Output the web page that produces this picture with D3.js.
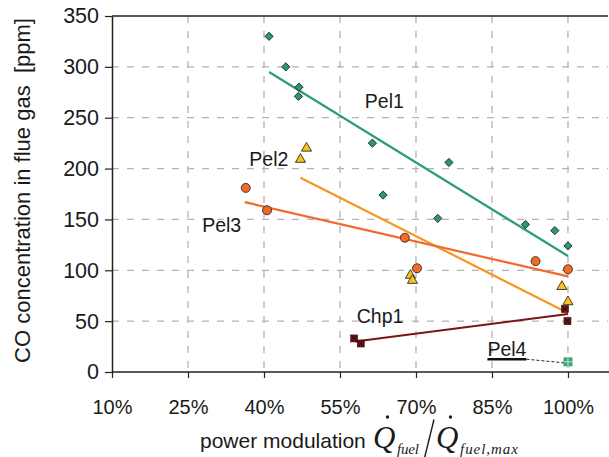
<!DOCTYPE html>
<html>
<head>
<meta charset="utf-8">
<script src="https://cdn.jsdelivr.net/npm/d3@7"></script>
<style>
  html, body { margin: 0; padding: 0; background: #fff; }
  svg { display: block; }
  text { font-family: "Liberation Sans", Arial, sans-serif; fill: #1a1a1a; }
  text.math { font-family: "Liberation Serif", "Times New Roman", serif; font-style: italic; }
</style>
</head>
<body>
<svg id="chart" width="609" height="457"></svg>
<script>
// Measured CO emissions vs. power modulation for several boilers
const pel1X = [41, 44.3, 46.9, 46.8, 61.4, 63.5, 74.3, 76.5, 91.6, 97.4, 100];
const pel1Y = [330, 300, 280, 271, 225, 174, 151, 206, 145, 139, 124];
const pel1FitX = [41, 100];
const pel1FitY = [295, 114];

const pel2X = [48.4, 47.2, 68.9, 69.3, 98.8, 100];
const pel2Y = [220, 209, 95, 90, 84, 69];
const pel2FitX = [47.2, 100];
const pel2FitY = [191, 58];

const pel3X = [36.4, 40.6, 67.8, 70.2, 93.6, 100];
const pel3Y = [181, 159, 132, 102, 109, 101];
const pel3FitX = [36.2, 100];
const pel3FitY = [167, 94];

const chp1X = [57.8, 59.1, 99.4, 99.9];
const chp1Y = [33, 28, 62, 50];
const chp1FitX = [58, 100];
const chp1FitY = [30, 57];

const pel4X = [100];
const pel4Y = [10];

const xTicks = [10, 25, 40, 55, 70, 85, 100];
const yTicks = [0, 50, 100, 150, 200, 250, 300, 350];

const svg = d3.select("#chart");
const plotL = 112, plotR = 608, plotT = 16, plotB = 372;

const x = d3.scaleLinear().domain([10, 107.9]).range([plotL, plotR]);
const y = d3.scaleLinear().domain([0, 350]).range([plotB, plotT]);

const zip = (a, b) => a.map((v, i) => [v, b[i]]);

// grid
const grid = svg.append("g").attr("stroke", "#b3b3b3").attr("stroke-width", 1.3)
  .attr("stroke-dasharray", "7,8");
grid.selectAll("line.h").data(yTicks.filter(t => t > 0 && t < 350)).join("line")
  .attr("x1", plotL).attr("x2", plotR).attr("y1", d => y(d)).attr("y2", d => y(d));
grid.selectAll("line.v").data(xTicks.filter(t => t > 10)).join("line")
  .attr("y1", plotT).attr("y2", plotB).attr("x1", d => x(d)).attr("x2", d => x(d));

// top border
svg.append("line").attr("x1", plotL).attr("x2", plotR).attr("y1", y(350)).attr("y2", y(350))
  .attr("stroke", "#222").attr("stroke-width", 1.5);

// trend lines
const line = d3.line().x(d => x(d[0])).y(d => y(d[1]));
const fits = [
  [zip(pel1FitX, pel1FitY), "#2f9e74"],
  [zip(pel2FitX, pel2FitY), "#f7961f"],
  [zip(pel3FitX, pel3FitY), "#f2692a"],
  [zip(chp1FitX, chp1FitY), "#7a1518"]
];
fits.forEach(([pts, c]) => {
  svg.append("path").attr("d", line(pts)).attr("fill", "none")
    .attr("stroke", c).attr("stroke-width", 2.2);
});

// markers
const outline = "#2b2b2b";
svg.append("g").selectAll("path").data(zip(pel1X, pel1Y)).join("path")
  .attr("d", d3.symbol(d3.symbolSquare, 34)())
  .attr("transform", d => `translate(${x(d[0])},${y(d[1])}) rotate(45)`)
  .attr("fill", "#2a9a6c").attr("stroke", outline).attr("stroke-width", 0.9);

svg.append("g").selectAll("path").data(zip(pel2X, pel2Y)).join("path")
  .attr("d", d3.symbol(d3.symbolTriangle, 44)())
  .attr("transform", d => `translate(${x(d[0])},${y(d[1])})`)
  .attr("fill", "#f9c31c").attr("stroke", outline).attr("stroke-width", 0.9);

svg.append("g").selectAll("circle").data(zip(pel3X, pel3Y)).join("circle")
  .attr("cx", d => x(d[0])).attr("cy", d => y(d[1])).attr("r", 4.5)
  .attr("fill", "#f26b24").attr("stroke", outline).attr("stroke-width", 0.9);

const chp = svg.append("g").selectAll("g").data(zip(chp1X, chp1Y)).join("g")
  .attr("transform", d => `translate(${x(d[0])},${y(d[1])})`);
chp.append("rect").attr("x", -3.5).attr("y", -3.5).attr("width", 7).attr("height", 7)
  .attr("fill", "#6e1216").attr("stroke", "#3a0a0a").attr("stroke-width", 0.6);
chp.append("path").attr("d", "M-2.5,-2.5L2.5,2.5M-2.5,2.5L2.5,-2.5")
  .attr("stroke", "#111").attr("stroke-width", 0.9);

const p4 = svg.append("g").selectAll("g").data(zip(pel4X, pel4Y)).join("g")
  .attr("transform", d => `translate(${x(d[0])},${y(d[1])})`);
p4.append("rect").attr("x", -4.5).attr("y", -4.5).attr("width", 9).attr("height", 9)
  .attr("fill", "#3aa878");
p4.append("path").attr("d", "M-4.5,0H4.5M0,-4.5V4.5")
  .attr("stroke", "#bfe6d2").attr("stroke-width", 1);

// series labels
const labels = [
  ["Pel1", 59.9, 259.5],
  ["Pel2", 37.1, 202.8],
  ["Pel3", 27.8, 137.3],
  ["Chp1", 58.3, 48.5]
];
svg.append("g").selectAll("text").data(labels).join("text")
  .attr("x", d => x(d[1])).attr("y", d => y(d[2]))
  .attr("font-size", 19.5).text(d => d[0]);

// Pel4 label with underline and dashed leader
const p4x = x(84.1), p4y = y(16);
const p4t = svg.append("text").attr("x", p4x).attr("y", p4y).attr("font-size", 19.5).text("Pel4");
const p4w = p4t.node().getComputedTextLength();
svg.append("line").attr("x1", p4x).attr("x2", p4x + p4w).attr("y1", p4y + 3.5).attr("y2", p4y + 3.5)
  .attr("stroke", "#111").attr("stroke-width", 2.4);
svg.append("line").attr("x1", p4x + p4w).attr("y1", p4y + 3.5)
  .attr("x2", x(pel4X[0]) - 4).attr("y2", y(pel4Y[0]) + 1)
  .attr("stroke", "#111").attr("stroke-width", 0.9).attr("stroke-dasharray", "3,2");

// axes
const xAxis = d3.axisBottom(x).tickValues(xTicks).tickFormat(d => d + "%")
  .tickSize(6).tickPadding(22).tickSizeOuter(0);
const gx = svg.append("g").attr("transform", `translate(0,${plotB})`).call(xAxis);
gx.select(".domain").attr("d", `M${plotL},0H609`).attr("stroke", "#222").attr("stroke-width", 1.5);
gx.selectAll(".tick line").attr("stroke", "#222").attr("stroke-width", 1.2);
gx.selectAll(".tick text").attr("font-size", 20);

const yAxis = d3.axisLeft(y).tickValues(yTicks).tickSize(7).tickPadding(6).tickSizeOuter(0);
const gy = svg.append("g").attr("transform", `translate(${plotL},0)`).call(yAxis);
gy.select(".domain").attr("stroke", "#222").attr("stroke-width", 1.5);
gy.selectAll(".tick line").attr("stroke", "#222").attr("stroke-width", 1.2);
gy.selectAll(".tick text").attr("font-size", 21.5);

// y title
svg.append("text").attr("transform", "translate(30,190.5) rotate(-90)")
  .attr("text-anchor", "middle").attr("font-size", 22)
  .text("CO concentration in flue gas\u00a0 [ppm]");

// x title: "power modulation" followed by the ratio Q̇fuel / Q̇fuel,max
const xt = svg.append("g");
xt.append("text").attr("x", 200).attr("y", 448).attr("font-size", 21).text("power modulation");
function qdot(xpos, sub, subLen) {
  xt.append("text").attr("class", "math").attr("x", xpos).attr("y", 448)
    .attr("font-size", 31).text("Q");
  xt.append("circle").attr("cx", xpos + 14.5).attr("cy", 417).attr("r", 1.7).attr("fill", "#1a1a1a");
  xt.append("text").attr("class", "math").attr("x", xpos + 24).attr("y", 453.5)
    .attr("font-size", 15).attr("textLength", subLen).attr("lengthAdjust", "spacing").text(sub);
}
qdot(373, "fuel", 22);
xt.append("line").attr("x1", 434).attr("y1", 419.5).attr("x2", 424.5).attr("y2", 458)
  .attr("stroke", "#1a1a1a").attr("stroke-width", 1.4);
qdot(436, "fuel,max", 58);
</script>
</body>
</html>
